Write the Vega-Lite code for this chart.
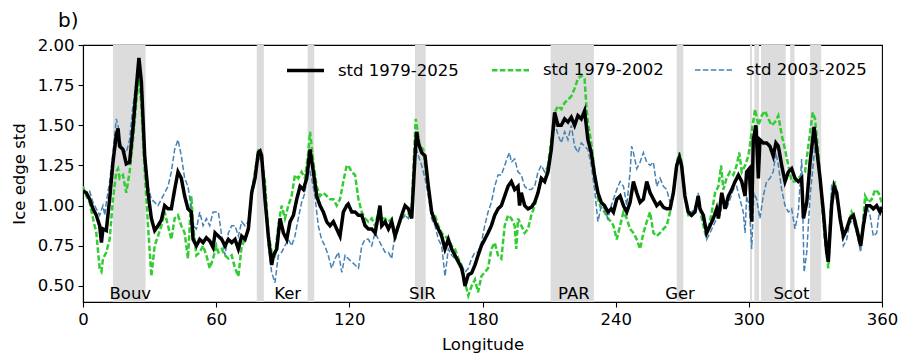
{
"$schema":"https://vega.github.io/schema/vega-lite/v6.json",
"width":799,"height":257,
"autosize":{"type":"none"},
"padding":{"left":83,"top":45,"right":18,"bottom":51},
"title":{"text":"b)","anchor":"start","frame":"group","dx":-25,"dy":25,"fontSize":20,"fontWeight":"normal","font":"DejaVu Sans","color":"black","baseline":"alphabetic","offset":15},
"datasets":{
"bands":[{"x0":13.5,"x1":28.2},{"x0":78.3,"x1":81.5},{"x0":101.2,"x1":104.2},{"x0":149.6,"x1":154.4},{"x0":210.7,"x1":230.2},{"x0":267.5,"x1":270.5},{"x0":300.5,"x1":301.4},{"x0":302.5,"x1":304.6},{"x0":305.5,"x1":316.6},{"x0":318.6,"x1":320.6},{"x0":327.6,"x1":332.6}],
"labels":[{"label":"Bouv","lon":21.3},{"label":"Ker","lon":92.2},{"label":"SIR","lon":152.9},{"label":"PAR","lon":221.2},{"label":"Ger","lon":269.0},{"label":"Scot","lon":319.2}],
"lines":[
{"series":"std 1979-2025","lon":0,"std":1.09},{"series":"std 1979-2025","lon":1.5,"std":1.08},{"series":"std 1979-2025","lon":3,"std":1.04},{"series":"std 1979-2025","lon":4.5,"std":0.98},{"series":"std 1979-2025","lon":6,"std":0.94},{"series":"std 1979-2025","lon":7.5,"std":0.875},{"series":"std 1979-2025","lon":8.3,"std":0.77},{"series":"std 1979-2025","lon":9,"std":0.855},{"series":"std 1979-2025","lon":10.5,"std":0.845},{"series":"std 1979-2025","lon":12,"std":1.04},{"series":"std 1979-2025","lon":13.5,"std":1.27},{"series":"std 1979-2025","lon":15,"std":1.44},{"series":"std 1979-2025","lon":15.8,"std":1.48},{"series":"std 1979-2025","lon":16.5,"std":1.37},{"series":"std 1979-2025","lon":18,"std":1.35},{"series":"std 1979-2025","lon":19.5,"std":1.26},{"series":"std 1979-2025","lon":21,"std":1.27},{"series":"std 1979-2025","lon":22.5,"std":1.48},{"series":"std 1979-2025","lon":24,"std":1.73},{"series":"std 1979-2025","lon":25.2,"std":1.92},{"series":"std 1979-2025","lon":26.3,"std":1.77},{"series":"std 1979-2025","lon":27.8,"std":1.31},{"series":"std 1979-2025","lon":29.3,"std":1.08},{"series":"std 1979-2025","lon":30.8,"std":0.92},{"series":"std 1979-2025","lon":32.3,"std":0.845},{"series":"std 1979-2025","lon":33.8,"std":0.875},{"series":"std 1979-2025","lon":35.3,"std":0.91},{"series":"std 1979-2025","lon":36.8,"std":1.0},{"series":"std 1979-2025","lon":38.3,"std":0.98},{"series":"std 1979-2025","lon":39.8,"std":0.98},{"series":"std 1979-2025","lon":41.3,"std":1.1},{"series":"std 1979-2025","lon":42.8,"std":1.21},{"series":"std 1979-2025","lon":44.3,"std":1.17},{"series":"std 1979-2025","lon":45.8,"std":1.06},{"series":"std 1979-2025","lon":47.3,"std":0.98},{"series":"std 1979-2025","lon":48.8,"std":0.96},{"series":"std 1979-2025","lon":49.6,"std":0.79},{"series":"std 1979-2025","lon":51.1,"std":0.75},{"series":"std 1979-2025","lon":52.6,"std":0.79},{"series":"std 1979-2025","lon":54.1,"std":0.77},{"series":"std 1979-2025","lon":55.6,"std":0.8},{"series":"std 1979-2025","lon":57.1,"std":0.78},{"series":"std 1979-2025","lon":58.6,"std":0.74},{"series":"std 1979-2025","lon":59.5,"std":0.83},{"series":"std 1979-2025","lon":61,"std":0.81},{"series":"std 1979-2025","lon":62.5,"std":0.79},{"series":"std 1979-2025","lon":64,"std":0.75},{"series":"std 1979-2025","lon":65.5,"std":0.79},{"series":"std 1979-2025","lon":67,"std":0.77},{"series":"std 1979-2025","lon":68.5,"std":0.79},{"series":"std 1979-2025","lon":70,"std":0.73},{"series":"std 1979-2025","lon":71.5,"std":0.81},{"series":"std 1979-2025","lon":73,"std":0.79},{"series":"std 1979-2025","lon":74.5,"std":0.855},{"series":"std 1979-2025","lon":76,"std":1.08},{"series":"std 1979-2025","lon":77.5,"std":1.17},{"series":"std 1979-2025","lon":79,"std":1.33},{"series":"std 1979-2025","lon":79.8,"std":1.34},{"series":"std 1979-2025","lon":80.5,"std":1.31},{"series":"std 1979-2025","lon":82,"std":1.04},{"series":"std 1979-2025","lon":83.5,"std":0.81},{"series":"std 1979-2025","lon":85,"std":0.63},{"series":"std 1979-2025","lon":85.8,"std":0.69},{"series":"std 1979-2025","lon":87.3,"std":0.73},{"series":"std 1979-2025","lon":88.8,"std":0.92},{"series":"std 1979-2025","lon":90.3,"std":0.83},{"series":"std 1979-2025","lon":91.8,"std":0.79},{"series":"std 1979-2025","lon":93.3,"std":0.9},{"series":"std 1979-2025","lon":94.8,"std":0.94},{"series":"std 1979-2025","lon":96.3,"std":1.04},{"series":"std 1979-2025","lon":97.8,"std":1.12},{"series":"std 1979-2025","lon":99.3,"std":1.1},{"series":"std 1979-2025","lon":100.8,"std":1.17},{"series":"std 1979-2025","lon":102.3,"std":1.35},{"series":"std 1979-2025","lon":103.8,"std":1.21},{"series":"std 1979-2025","lon":105.3,"std":1.06},{"series":"std 1979-2025","lon":106.8,"std":1.0},{"series":"std 1979-2025","lon":108.3,"std":0.96},{"series":"std 1979-2025","lon":109.8,"std":0.9},{"series":"std 1979-2025","lon":111.3,"std":0.875},{"series":"std 1979-2025","lon":112.8,"std":0.9},{"series":"std 1979-2025","lon":114.3,"std":0.855},{"series":"std 1979-2025","lon":115.8,"std":0.81},{"series":"std 1979-2025","lon":117.3,"std":0.96},{"series":"std 1979-2025","lon":118.8,"std":1.0},{"series":"std 1979-2025","lon":119.5,"std":1.01},{"series":"std 1979-2025","lon":121.1,"std":0.96},{"series":"std 1979-2025","lon":122.6,"std":0.96},{"series":"std 1979-2025","lon":124.1,"std":0.94},{"series":"std 1979-2025","lon":125.6,"std":0.94},{"series":"std 1979-2025","lon":127.1,"std":0.875},{"series":"std 1979-2025","lon":128.6,"std":0.855},{"series":"std 1979-2025","lon":130.1,"std":0.855},{"series":"std 1979-2025","lon":131.6,"std":0.83},{"series":"std 1979-2025","lon":133.1,"std":0.94},{"series":"std 1979-2025","lon":133.8,"std":1.0},{"series":"std 1979-2025","lon":134.6,"std":0.875},{"series":"std 1979-2025","lon":136.1,"std":0.9},{"series":"std 1979-2025","lon":137.6,"std":0.855},{"series":"std 1979-2025","lon":139.1,"std":0.9},{"series":"std 1979-2025","lon":140.6,"std":0.81},{"series":"std 1979-2025","lon":142.1,"std":0.875},{"series":"std 1979-2025","lon":143.6,"std":0.94},{"series":"std 1979-2025","lon":145.1,"std":1.0},{"series":"std 1979-2025","lon":146.6,"std":0.98},{"series":"std 1979-2025","lon":148.1,"std":0.92},{"series":"std 1979-2025","lon":148.8,"std":1.1},{"series":"std 1979-2025","lon":149.6,"std":1.31},{"series":"std 1979-2025","lon":150.3,"std":1.46},{"series":"std 1979-2025","lon":151.1,"std":1.39},{"series":"std 1979-2025","lon":152.6,"std":1.33},{"series":"std 1979-2025","lon":154.1,"std":1.31},{"series":"std 1979-2025","lon":155.6,"std":1.12},{"series":"std 1979-2025","lon":157.1,"std":0.96},{"series":"std 1979-2025","lon":158.6,"std":0.9},{"series":"std 1979-2025","lon":160.1,"std":0.855},{"series":"std 1979-2025","lon":161.6,"std":0.81},{"series":"std 1979-2025","lon":163.1,"std":0.73},{"series":"std 1979-2025","lon":164.6,"std":0.79},{"series":"std 1979-2025","lon":166.1,"std":0.73},{"series":"std 1979-2025","lon":167.6,"std":0.69},{"series":"std 1979-2025","lon":169.1,"std":0.65},{"series":"std 1979-2025","lon":170.6,"std":0.61},{"series":"std 1979-2025","lon":171.4,"std":0.56},{"series":"std 1979-2025","lon":172.1,"std":0.5},{"series":"std 1979-2025","lon":173.6,"std":0.57},{"series":"std 1979-2025","lon":175.1,"std":0.58},{"series":"std 1979-2025","lon":176.6,"std":0.63},{"series":"std 1979-2025","lon":178,"std":0.69},{"series":"std 1979-2025","lon":179.5,"std":0.75},{"series":"std 1979-2025","lon":181,"std":0.79},{"series":"std 1979-2025","lon":182.5,"std":0.83},{"series":"std 1979-2025","lon":184,"std":0.875},{"series":"std 1979-2025","lon":185.5,"std":0.94},{"series":"std 1979-2025","lon":187,"std":0.98},{"series":"std 1979-2025","lon":188.5,"std":1.0},{"series":"std 1979-2025","lon":190,"std":1.06},{"series":"std 1979-2025","lon":191.5,"std":1.12},{"series":"std 1979-2025","lon":193,"std":1.15},{"series":"std 1979-2025","lon":194.5,"std":1.1},{"series":"std 1979-2025","lon":196,"std":1.12},{"series":"std 1979-2025","lon":196.7,"std":1.0},{"series":"std 1979-2025","lon":197.5,"std":1.08},{"series":"std 1979-2025","lon":199,"std":1.0},{"series":"std 1979-2025","lon":200.5,"std":0.98},{"series":"std 1979-2025","lon":202,"std":0.99},{"series":"std 1979-2025","lon":203.5,"std":1.02},{"series":"std 1979-2025","lon":205,"std":1.08},{"series":"std 1979-2025","lon":206.5,"std":1.17},{"series":"std 1979-2025","lon":208,"std":1.15},{"series":"std 1979-2025","lon":209.5,"std":1.21},{"series":"std 1979-2025","lon":211,"std":1.35},{"series":"std 1979-2025","lon":212.5,"std":1.58},{"series":"std 1979-2025","lon":214,"std":1.5},{"series":"std 1979-2025","lon":215.5,"std":1.5},{"series":"std 1979-2025","lon":217,"std":1.54},{"series":"std 1979-2025","lon":218.5,"std":1.52},{"series":"std 1979-2025","lon":220,"std":1.55},{"series":"std 1979-2025","lon":221.5,"std":1.5},{"series":"std 1979-2025","lon":223,"std":1.56},{"series":"std 1979-2025","lon":224.5,"std":1.54},{"series":"std 1979-2025","lon":226,"std":1.59},{"series":"std 1979-2025","lon":227.5,"std":1.41},{"series":"std 1979-2025","lon":229,"std":1.33},{"series":"std 1979-2025","lon":230.5,"std":1.19},{"series":"std 1979-2025","lon":232,"std":1.08},{"series":"std 1979-2025","lon":233.5,"std":1.02},{"series":"std 1979-2025","lon":235,"std":1.0},{"series":"std 1979-2025","lon":236.5,"std":0.96},{"series":"std 1979-2025","lon":238,"std":0.98},{"series":"std 1979-2025","lon":239,"std":0.96},{"series":"std 1979-2025","lon":240.5,"std":1.04},{"series":"std 1979-2025","lon":242,"std":1.06},{"series":"std 1979-2025","lon":243.5,"std":1.0},{"series":"std 1979-2025","lon":245,"std":0.96},{"series":"std 1979-2025","lon":246.5,"std":1.02},{"series":"std 1979-2025","lon":248,"std":1.15},{"series":"std 1979-2025","lon":249.5,"std":1.08},{"series":"std 1979-2025","lon":251,"std":1.02},{"series":"std 1979-2025","lon":252.5,"std":1.04},{"series":"std 1979-2025","lon":254,"std":1.15},{"series":"std 1979-2025","lon":255.5,"std":1.08},{"series":"std 1979-2025","lon":257,"std":1.04},{"series":"std 1979-2025","lon":258.5,"std":1.0},{"series":"std 1979-2025","lon":260,"std":1.02},{"series":"std 1979-2025","lon":261.5,"std":0.99},{"series":"std 1979-2025","lon":263,"std":0.98},{"series":"std 1979-2025","lon":264.5,"std":0.98},{"series":"std 1979-2025","lon":266,"std":1.08},{"series":"std 1979-2025","lon":267.5,"std":1.25},{"series":"std 1979-2025","lon":268.7,"std":1.3},{"series":"std 1979-2025","lon":269.7,"std":1.25},{"series":"std 1979-2025","lon":271.2,"std":1.06},{"series":"std 1979-2025","lon":272.7,"std":0.96},{"series":"std 1979-2025","lon":274.2,"std":0.94},{"series":"std 1979-2025","lon":275.7,"std":0.96},{"series":"std 1979-2025","lon":277.2,"std":1.06},{"series":"std 1979-2025","lon":278,"std":0.98},{"series":"std 1979-2025","lon":279.5,"std":0.94},{"series":"std 1979-2025","lon":281,"std":0.83},{"series":"std 1979-2025","lon":282.5,"std":0.875},{"series":"std 1979-2025","lon":284,"std":0.92},{"series":"std 1979-2025","lon":285.5,"std":0.98},{"series":"std 1979-2025","lon":286.3,"std":0.92},{"series":"std 1979-2025","lon":287.8,"std":1.08},{"series":"std 1979-2025","lon":289.3,"std":0.98},{"series":"std 1979-2025","lon":290.8,"std":1.06},{"series":"std 1979-2025","lon":292.3,"std":1.1},{"series":"std 1979-2025","lon":293.8,"std":1.15},{"series":"std 1979-2025","lon":295.3,"std":1.19},{"series":"std 1979-2025","lon":296.8,"std":1.15},{"series":"std 1979-2025","lon":298.3,"std":1.06},{"series":"std 1979-2025","lon":299,"std":1.21},{"series":"std 1979-2025","lon":300.2,"std":1.23},{"series":"std 1979-2025","lon":301.3,"std":0.9},{"series":"std 1979-2025","lon":302,"std":1.41},{"series":"std 1979-2025","lon":303.2,"std":1.5},{"series":"std 1979-2025","lon":304.3,"std":1.17},{"series":"std 1979-2025","lon":305,"std":1.41},{"series":"std 1979-2025","lon":306.5,"std":1.39},{"series":"std 1979-2025","lon":308,"std":1.39},{"series":"std 1979-2025","lon":309.5,"std":1.37},{"series":"std 1979-2025","lon":311,"std":1.31},{"series":"std 1979-2025","lon":312.2,"std":1.39},{"series":"std 1979-2025","lon":313.3,"std":1.37},{"series":"std 1979-2025","lon":314.8,"std":1.25},{"series":"std 1979-2025","lon":316.3,"std":1.15},{"series":"std 1979-2025","lon":317.8,"std":1.21},{"series":"std 1979-2025","lon":319.3,"std":1.23},{"series":"std 1979-2025","lon":320.8,"std":1.17},{"series":"std 1979-2025","lon":322.3,"std":1.15},{"series":"std 1979-2025","lon":323.8,"std":1.17},{"series":"std 1979-2025","lon":324.6,"std":0.92},{"series":"std 1979-2025","lon":326.1,"std":1.02},{"series":"std 1979-2025","lon":327.6,"std":1.27},{"series":"std 1979-2025","lon":329.4,"std":1.49},{"series":"std 1979-2025","lon":330.6,"std":1.35},{"series":"std 1979-2025","lon":332.1,"std":1.17},{"series":"std 1979-2025","lon":333.6,"std":0.96},{"series":"std 1979-2025","lon":335.1,"std":0.71},{"series":"std 1979-2025","lon":335.8,"std":0.65},{"series":"std 1979-2025","lon":337.3,"std":1.0},{"series":"std 1979-2025","lon":338.4,"std":1.12},{"series":"std 1979-2025","lon":339.6,"std":1.08},{"series":"std 1979-2025","lon":341.1,"std":0.92},{"series":"std 1979-2025","lon":342.6,"std":0.81},{"series":"std 1979-2025","lon":344.1,"std":0.855},{"series":"std 1979-2025","lon":345.6,"std":0.92},{"series":"std 1979-2025","lon":347.1,"std":0.94},{"series":"std 1979-2025","lon":348.6,"std":0.855},{"series":"std 1979-2025","lon":350.4,"std":0.75},{"series":"std 1979-2025","lon":351.6,"std":0.875},{"series":"std 1979-2025","lon":353.1,"std":1.0},{"series":"std 1979-2025","lon":354.6,"std":1.0},{"series":"std 1979-2025","lon":356.1,"std":0.98},{"series":"std 1979-2025","lon":357.6,"std":1.0},{"series":"std 1979-2025","lon":359.1,"std":0.96},{"series":"std 1979-2025","lon":360,"std":0.99},
{"series":"std 1979-2002","lon":0,"std":1.12},{"series":"std 1979-2002","lon":1.5,"std":1.06},{"series":"std 1979-2002","lon":3,"std":1.02},{"series":"std 1979-2002","lon":4.5,"std":0.92},{"series":"std 1979-2002","lon":6,"std":0.83},{"series":"std 1979-2002","lon":7.5,"std":0.61},{"series":"std 1979-2002","lon":8.3,"std":0.59},{"series":"std 1979-2002","lon":9,"std":0.67},{"series":"std 1979-2002","lon":10.5,"std":0.71},{"series":"std 1979-2002","lon":12,"std":0.79},{"series":"std 1979-2002","lon":13.5,"std":1.04},{"series":"std 1979-2002","lon":15,"std":1.21},{"series":"std 1979-2002","lon":15.8,"std":1.23},{"series":"std 1979-2002","lon":16.5,"std":1.17},{"series":"std 1979-2002","lon":18,"std":1.19},{"series":"std 1979-2002","lon":19.5,"std":1.08},{"series":"std 1979-2002","lon":21,"std":1.21},{"series":"std 1979-2002","lon":22.5,"std":1.41},{"series":"std 1979-2002","lon":24,"std":1.64},{"series":"std 1979-2002","lon":25.2,"std":1.81},{"series":"std 1979-2002","lon":26.3,"std":1.62},{"series":"std 1979-2002","lon":27.8,"std":1.21},{"series":"std 1979-2002","lon":29.3,"std":0.875},{"series":"std 1979-2002","lon":30.8,"std":0.56},{"series":"std 1979-2002","lon":32.3,"std":0.75},{"series":"std 1979-2002","lon":33.8,"std":0.81},{"series":"std 1979-2002","lon":35.3,"std":0.875},{"series":"std 1979-2002","lon":36.8,"std":0.96},{"series":"std 1979-2002","lon":38.3,"std":0.875},{"series":"std 1979-2002","lon":39.8,"std":0.79},{"series":"std 1979-2002","lon":41.3,"std":0.92},{"series":"std 1979-2002","lon":42.8,"std":0.94},{"series":"std 1979-2002","lon":44.3,"std":0.875},{"series":"std 1979-2002","lon":45.8,"std":0.83},{"series":"std 1979-2002","lon":47.3,"std":0.67},{"series":"std 1979-2002","lon":48.8,"std":1.06},{"series":"std 1979-2002","lon":49.6,"std":0.875},{"series":"std 1979-2002","lon":51.1,"std":0.69},{"series":"std 1979-2002","lon":52.6,"std":0.71},{"series":"std 1979-2002","lon":54.1,"std":0.75},{"series":"std 1979-2002","lon":55.6,"std":0.69},{"series":"std 1979-2002","lon":57.1,"std":0.61},{"series":"std 1979-2002","lon":58.6,"std":0.67},{"series":"std 1979-2002","lon":60.1,"std":0.75},{"series":"std 1979-2002","lon":61,"std":0.71},{"series":"std 1979-2002","lon":62.5,"std":0.73},{"series":"std 1979-2002","lon":64,"std":0.69},{"series":"std 1979-2002","lon":65.5,"std":0.67},{"series":"std 1979-2002","lon":67,"std":0.69},{"series":"std 1979-2002","lon":68.5,"std":0.61},{"series":"std 1979-2002","lon":70,"std":0.56},{"series":"std 1979-2002","lon":71.5,"std":0.75},{"series":"std 1979-2002","lon":73,"std":0.79},{"series":"std 1979-2002","lon":74.5,"std":0.855},{"series":"std 1979-2002","lon":76,"std":1.08},{"series":"std 1979-2002","lon":77.5,"std":1.21},{"series":"std 1979-2002","lon":79,"std":1.35},{"series":"std 1979-2002","lon":80.5,"std":1.29},{"series":"std 1979-2002","lon":82,"std":1.15},{"series":"std 1979-2002","lon":83.5,"std":0.83},{"series":"std 1979-2002","lon":85,"std":0.71},{"series":"std 1979-2002","lon":86.5,"std":0.69},{"series":"std 1979-2002","lon":88,"std":0.875},{"series":"std 1979-2002","lon":89.5,"std":1.0},{"series":"std 1979-2002","lon":91,"std":0.92},{"series":"std 1979-2002","lon":92.5,"std":1.0},{"series":"std 1979-2002","lon":94,"std":1.06},{"series":"std 1979-2002","lon":95.5,"std":1.19},{"series":"std 1979-2002","lon":97,"std":1.17},{"series":"std 1979-2002","lon":98.5,"std":1.21},{"series":"std 1979-2002","lon":100,"std":1.17},{"series":"std 1979-2002","lon":101.5,"std":1.33},{"series":"std 1979-2002","lon":102.3,"std":1.46},{"series":"std 1979-2002","lon":103.8,"std":1.27},{"series":"std 1979-2002","lon":105.3,"std":1.12},{"series":"std 1979-2002","lon":106.8,"std":1.06},{"series":"std 1979-2002","lon":108.3,"std":1.08},{"series":"std 1979-2002","lon":109.8,"std":1.06},{"series":"std 1979-2002","lon":111.3,"std":1.04},{"series":"std 1979-2002","lon":112.8,"std":1.04},{"series":"std 1979-2002","lon":114.3,"std":1.0},{"series":"std 1979-2002","lon":115.8,"std":1.04},{"series":"std 1979-2002","lon":117.3,"std":1.15},{"series":"std 1979-2002","lon":118.8,"std":1.25},{"series":"std 1979-2002","lon":119.5,"std":1.25},{"series":"std 1979-2002","lon":121.1,"std":1.21},{"series":"std 1979-2002","lon":122.6,"std":1.19},{"series":"std 1979-2002","lon":124.1,"std":1.04},{"series":"std 1979-2002","lon":125.6,"std":0.96},{"series":"std 1979-2002","lon":127.1,"std":0.92},{"series":"std 1979-2002","lon":128.6,"std":0.9},{"series":"std 1979-2002","lon":130.1,"std":0.92},{"series":"std 1979-2002","lon":131.6,"std":0.875},{"series":"std 1979-2002","lon":133.1,"std":0.96},{"series":"std 1979-2002","lon":134.6,"std":0.92},{"series":"std 1979-2002","lon":136.1,"std":0.92},{"series":"std 1979-2002","lon":137.6,"std":0.9},{"series":"std 1979-2002","lon":139.1,"std":0.92},{"series":"std 1979-2002","lon":140.6,"std":0.79},{"series":"std 1979-2002","lon":142.1,"std":0.875},{"series":"std 1979-2002","lon":143.6,"std":0.92},{"series":"std 1979-2002","lon":145.1,"std":0.94},{"series":"std 1979-2002","lon":146.6,"std":0.94},{"series":"std 1979-2002","lon":148.1,"std":1.0},{"series":"std 1979-2002","lon":148.8,"std":1.21},{"series":"std 1979-2002","lon":149.9,"std":1.54},{"series":"std 1979-2002","lon":150.8,"std":1.46},{"series":"std 1979-2002","lon":151.8,"std":1.37},{"series":"std 1979-2002","lon":153.3,"std":1.35},{"series":"std 1979-2002","lon":154.8,"std":1.17},{"series":"std 1979-2002","lon":157.1,"std":0.96},{"series":"std 1979-2002","lon":158.6,"std":0.94},{"series":"std 1979-2002","lon":160.1,"std":0.875},{"series":"std 1979-2002","lon":161.6,"std":0.83},{"series":"std 1979-2002","lon":163.1,"std":0.81},{"series":"std 1979-2002","lon":164.6,"std":0.79},{"series":"std 1979-2002","lon":166.1,"std":0.75},{"series":"std 1979-2002","lon":167.6,"std":0.73},{"series":"std 1979-2002","lon":169.1,"std":0.67},{"series":"std 1979-2002","lon":170.6,"std":0.63},{"series":"std 1979-2002","lon":172.1,"std":0.52},{"series":"std 1979-2002","lon":173.6,"std":0.44},{"series":"std 1979-2002","lon":175.1,"std":0.5},{"series":"std 1979-2002","lon":176.6,"std":0.54},{"series":"std 1979-2002","lon":178,"std":0.46},{"series":"std 1979-2002","lon":179.5,"std":0.56},{"series":"std 1979-2002","lon":181,"std":0.585},{"series":"std 1979-2002","lon":182.5,"std":0.61},{"series":"std 1979-2002","lon":184,"std":0.73},{"series":"std 1979-2002","lon":185.5,"std":0.77},{"series":"std 1979-2002","lon":187,"std":0.69},{"series":"std 1979-2002","lon":188.5,"std":0.67},{"series":"std 1979-2002","lon":190,"std":0.875},{"series":"std 1979-2002","lon":191.5,"std":0.94},{"series":"std 1979-2002","lon":193,"std":0.92},{"series":"std 1979-2002","lon":194.5,"std":0.875},{"series":"std 1979-2002","lon":195.2,"std":0.73},{"series":"std 1979-2002","lon":196,"std":0.92},{"series":"std 1979-2002","lon":197.5,"std":0.875},{"series":"std 1979-2002","lon":199,"std":0.83},{"series":"std 1979-2002","lon":200.5,"std":0.855},{"series":"std 1979-2002","lon":202,"std":0.94},{"series":"std 1979-2002","lon":203.5,"std":1.0},{"series":"std 1979-2002","lon":205,"std":1.08},{"series":"std 1979-2002","lon":206.5,"std":1.17},{"series":"std 1979-2002","lon":208,"std":1.15},{"series":"std 1979-2002","lon":209.5,"std":1.25},{"series":"std 1979-2002","lon":211,"std":1.41},{"series":"std 1979-2002","lon":212.5,"std":1.58},{"series":"std 1979-2002","lon":214,"std":1.62},{"series":"std 1979-2002","lon":215.5,"std":1.6},{"series":"std 1979-2002","lon":217,"std":1.64},{"series":"std 1979-2002","lon":218.5,"std":1.66},{"series":"std 1979-2002","lon":220,"std":1.68},{"series":"std 1979-2002","lon":221.5,"std":1.73},{"series":"std 1979-2002","lon":223,"std":1.79},{"series":"std 1979-2002","lon":224.5,"std":1.81},{"series":"std 1979-2002","lon":226,"std":1.79},{"series":"std 1979-2002","lon":226.8,"std":1.62},{"series":"std 1979-2002","lon":227.5,"std":1.52},{"series":"std 1979-2002","lon":229,"std":1.39},{"series":"std 1979-2002","lon":230.5,"std":1.21},{"series":"std 1979-2002","lon":232,"std":1.04},{"series":"std 1979-2002","lon":233.5,"std":0.98},{"series":"std 1979-2002","lon":235,"std":0.96},{"series":"std 1979-2002","lon":236.5,"std":0.92},{"series":"std 1979-2002","lon":238,"std":0.9},{"series":"std 1979-2002","lon":239,"std":0.875},{"series":"std 1979-2002","lon":240.5,"std":0.79},{"series":"std 1979-2002","lon":242,"std":0.875},{"series":"std 1979-2002","lon":243.5,"std":0.96},{"series":"std 1979-2002","lon":245,"std":0.92},{"series":"std 1979-2002","lon":246.5,"std":0.855},{"series":"std 1979-2002","lon":248,"std":0.83},{"series":"std 1979-2002","lon":249.5,"std":0.79},{"series":"std 1979-2002","lon":251,"std":0.73},{"series":"std 1979-2002","lon":252.5,"std":0.83},{"series":"std 1979-2002","lon":254,"std":0.9},{"series":"std 1979-2002","lon":255.5,"std":0.96},{"series":"std 1979-2002","lon":257,"std":0.83},{"series":"std 1979-2002","lon":258.5,"std":0.81},{"series":"std 1979-2002","lon":260,"std":0.83},{"series":"std 1979-2002","lon":261.5,"std":0.855},{"series":"std 1979-2002","lon":263,"std":0.875},{"series":"std 1979-2002","lon":264.5,"std":0.96},{"series":"std 1979-2002","lon":266,"std":1.08},{"series":"std 1979-2002","lon":267.5,"std":1.27},{"series":"std 1979-2002","lon":268.7,"std":1.33},{"series":"std 1979-2002","lon":269.7,"std":1.27},{"series":"std 1979-2002","lon":271.2,"std":1.06},{"series":"std 1979-2002","lon":272.7,"std":0.94},{"series":"std 1979-2002","lon":274.2,"std":0.94},{"series":"std 1979-2002","lon":275.7,"std":0.96},{"series":"std 1979-2002","lon":277.2,"std":1.04},{"series":"std 1979-2002","lon":278.8,"std":0.92},{"series":"std 1979-2002","lon":280.3,"std":0.83},{"series":"std 1979-2002","lon":281.8,"std":0.855},{"series":"std 1979-2002","lon":283.3,"std":0.96},{"series":"std 1979-2002","lon":284.8,"std":1.08},{"series":"std 1979-2002","lon":286.3,"std":1.12},{"series":"std 1979-2002","lon":287.5,"std":1.25},{"series":"std 1979-2002","lon":288.5,"std":1.1},{"series":"std 1979-2002","lon":290,"std":1.17},{"series":"std 1979-2002","lon":291.5,"std":1.21},{"series":"std 1979-2002","lon":293,"std":1.19},{"series":"std 1979-2002","lon":294.5,"std":1.25},{"series":"std 1979-2002","lon":295.7,"std":1.33},{"series":"std 1979-2002","lon":296.8,"std":1.21},{"series":"std 1979-2002","lon":298.3,"std":1.25},{"series":"std 1979-2002","lon":299.8,"std":1.31},{"series":"std 1979-2002","lon":301.3,"std":1.46},{"series":"std 1979-2002","lon":302.8,"std":1.6},{"series":"std 1979-2002","lon":304.3,"std":1.5},{"series":"std 1979-2002","lon":305.8,"std":1.56},{"series":"std 1979-2002","lon":307.3,"std":1.59},{"series":"std 1979-2002","lon":308.8,"std":1.54},{"series":"std 1979-2002","lon":310.3,"std":1.5},{"series":"std 1979-2002","lon":311.8,"std":1.52},{"series":"std 1979-2002","lon":313.3,"std":1.56},{"series":"std 1979-2002","lon":314.8,"std":1.44},{"series":"std 1979-2002","lon":316.3,"std":1.35},{"series":"std 1979-2002","lon":317.8,"std":1.25},{"series":"std 1979-2002","lon":319.3,"std":1.15},{"series":"std 1979-2002","lon":320.8,"std":1.15},{"series":"std 1979-2002","lon":322.3,"std":1.17},{"series":"std 1979-2002","lon":323.8,"std":1.19},{"series":"std 1979-2002","lon":325.3,"std":1.21},{"series":"std 1979-2002","lon":326.8,"std":1.37},{"series":"std 1979-2002","lon":328.8,"std":1.58},{"series":"std 1979-2002","lon":329.8,"std":1.54},{"series":"std 1979-2002","lon":331.3,"std":1.33},{"series":"std 1979-2002","lon":332.8,"std":1.04},{"series":"std 1979-2002","lon":334.3,"std":0.79},{"series":"std 1979-2002","lon":335.8,"std":0.61},{"series":"std 1979-2002","lon":337.3,"std":1.04},{"series":"std 1979-2002","lon":338.8,"std":1.15},{"series":"std 1979-2002","lon":340.3,"std":1.0},{"series":"std 1979-2002","lon":341.8,"std":0.875},{"series":"std 1979-2002","lon":343.3,"std":0.83},{"series":"std 1979-2002","lon":344.8,"std":0.875},{"series":"std 1979-2002","lon":346.3,"std":0.96},{"series":"std 1979-2002","lon":347.8,"std":0.92},{"series":"std 1979-2002","lon":349.3,"std":0.83},{"series":"std 1979-2002","lon":350.8,"std":0.77},{"series":"std 1979-2002","lon":352.4,"std":1.06},{"series":"std 1979-2002","lon":353.9,"std":1.02},{"series":"std 1979-2002","lon":355.4,"std":1.04},{"series":"std 1979-2002","lon":356.9,"std":1.1},{"series":"std 1979-2002","lon":358.4,"std":1.08},{"series":"std 1979-2002","lon":359.9,"std":1.02},
{"series":"std 2003-2025","lon":0,"std":1.1},{"series":"std 2003-2025","lon":1.5,"std":1.08},{"series":"std 2003-2025","lon":3,"std":1.09},{"series":"std 2003-2025","lon":4.5,"std":1.02},{"series":"std 2003-2025","lon":6,"std":0.98},{"series":"std 2003-2025","lon":7.5,"std":0.94},{"series":"std 2003-2025","lon":9,"std":1.0},{"series":"std 2003-2025","lon":9.8,"std":0.94},{"series":"std 2003-2025","lon":10.5,"std":1.02},{"series":"std 2003-2025","lon":12,"std":1.15},{"series":"std 2003-2025","lon":13.5,"std":1.33},{"series":"std 2003-2025","lon":15,"std":1.54},{"series":"std 2003-2025","lon":15.8,"std":1.5},{"series":"std 2003-2025","lon":16.5,"std":1.41},{"series":"std 2003-2025","lon":18,"std":1.35},{"series":"std 2003-2025","lon":19.5,"std":1.33},{"series":"std 2003-2025","lon":21,"std":1.41},{"series":"std 2003-2025","lon":22.5,"std":1.62},{"series":"std 2003-2025","lon":24,"std":1.77},{"series":"std 2003-2025","lon":25.2,"std":1.87},{"series":"std 2003-2025","lon":26.3,"std":1.73},{"series":"std 2003-2025","lon":27.8,"std":1.35},{"series":"std 2003-2025","lon":29.3,"std":1.12},{"series":"std 2003-2025","lon":30.8,"std":1.04},{"series":"std 2003-2025","lon":32.3,"std":1.02},{"series":"std 2003-2025","lon":33.8,"std":1.0},{"series":"std 2003-2025","lon":35.3,"std":1.04},{"series":"std 2003-2025","lon":36.8,"std":1.08},{"series":"std 2003-2025","lon":38.3,"std":1.12},{"series":"std 2003-2025","lon":39.8,"std":1.21},{"series":"std 2003-2025","lon":41.3,"std":1.35},{"series":"std 2003-2025","lon":42.8,"std":1.41},{"series":"std 2003-2025","lon":44.3,"std":1.31},{"series":"std 2003-2025","lon":45.8,"std":1.17},{"series":"std 2003-2025","lon":47.3,"std":1.12},{"series":"std 2003-2025","lon":48.8,"std":0.98},{"series":"std 2003-2025","lon":49.6,"std":0.875},{"series":"std 2003-2025","lon":51.1,"std":0.855},{"series":"std 2003-2025","lon":52.6,"std":0.96},{"series":"std 2003-2025","lon":54.1,"std":0.875},{"series":"std 2003-2025","lon":55.6,"std":0.92},{"series":"std 2003-2025","lon":57.1,"std":0.875},{"series":"std 2003-2025","lon":58.6,"std":0.96},{"series":"std 2003-2025","lon":61,"std":0.96},{"series":"std 2003-2025","lon":62.5,"std":0.81},{"series":"std 2003-2025","lon":64,"std":0.69},{"series":"std 2003-2025","lon":65.5,"std":0.83},{"series":"std 2003-2025","lon":67,"std":0.875},{"series":"std 2003-2025","lon":68.5,"std":0.875},{"series":"std 2003-2025","lon":70,"std":0.81},{"series":"std 2003-2025","lon":71.5,"std":0.9},{"series":"std 2003-2025","lon":73,"std":0.875},{"series":"std 2003-2025","lon":74.5,"std":0.9},{"series":"std 2003-2025","lon":76,"std":1.08},{"series":"std 2003-2025","lon":77.5,"std":1.15},{"series":"std 2003-2025","lon":79,"std":1.31},{"series":"std 2003-2025","lon":80.5,"std":1.27},{"series":"std 2003-2025","lon":82,"std":1.04},{"series":"std 2003-2025","lon":83.5,"std":0.75},{"series":"std 2003-2025","lon":85,"std":0.585},{"series":"std 2003-2025","lon":86.5,"std":0.52},{"series":"std 2003-2025","lon":88,"std":0.69},{"series":"std 2003-2025","lon":89.5,"std":0.71},{"series":"std 2003-2025","lon":91,"std":0.75},{"series":"std 2003-2025","lon":92.5,"std":0.79},{"series":"std 2003-2025","lon":94,"std":0.75},{"series":"std 2003-2025","lon":95.5,"std":0.81},{"series":"std 2003-2025","lon":97,"std":0.92},{"series":"std 2003-2025","lon":98.5,"std":1.02},{"series":"std 2003-2025","lon":100,"std":1.08},{"series":"std 2003-2025","lon":101.5,"std":1.25},{"series":"std 2003-2025","lon":103,"std":1.17},{"series":"std 2003-2025","lon":104.5,"std":1.06},{"series":"std 2003-2025","lon":106,"std":0.875},{"series":"std 2003-2025","lon":107.5,"std":0.79},{"series":"std 2003-2025","lon":109,"std":0.75},{"series":"std 2003-2025","lon":110.5,"std":0.69},{"series":"std 2003-2025","lon":112,"std":0.61},{"series":"std 2003-2025","lon":113.6,"std":0.67},{"series":"std 2003-2025","lon":115.1,"std":0.71},{"series":"std 2003-2025","lon":116.6,"std":0.585},{"series":"std 2003-2025","lon":118.1,"std":0.69},{"series":"std 2003-2025","lon":119.5,"std":0.67},{"series":"std 2003-2025","lon":121.1,"std":0.65},{"series":"std 2003-2025","lon":122.6,"std":0.63},{"series":"std 2003-2025","lon":124.1,"std":0.61},{"series":"std 2003-2025","lon":125.6,"std":0.75},{"series":"std 2003-2025","lon":127.1,"std":0.79},{"series":"std 2003-2025","lon":128.6,"std":0.79},{"series":"std 2003-2025","lon":130.1,"std":0.75},{"series":"std 2003-2025","lon":131.6,"std":0.83},{"series":"std 2003-2025","lon":133.1,"std":0.79},{"series":"std 2003-2025","lon":134.6,"std":0.75},{"series":"std 2003-2025","lon":136.1,"std":0.71},{"series":"std 2003-2025","lon":137.6,"std":0.71},{"series":"std 2003-2025","lon":139.1,"std":0.67},{"series":"std 2003-2025","lon":140.6,"std":0.83},{"series":"std 2003-2025","lon":142.1,"std":0.875},{"series":"std 2003-2025","lon":143.6,"std":0.92},{"series":"std 2003-2025","lon":145.1,"std":0.94},{"series":"std 2003-2025","lon":146.6,"std":0.92},{"series":"std 2003-2025","lon":148.1,"std":1.0},{"series":"std 2003-2025","lon":149.6,"std":1.31},{"series":"std 2003-2025","lon":150.3,"std":1.35},{"series":"std 2003-2025","lon":151.1,"std":1.31},{"series":"std 2003-2025","lon":152.6,"std":1.25},{"series":"std 2003-2025","lon":154.1,"std":1.17},{"series":"std 2003-2025","lon":155.6,"std":1.06},{"series":"std 2003-2025","lon":157.1,"std":0.92},{"series":"std 2003-2025","lon":158.6,"std":0.875},{"series":"std 2003-2025","lon":160.1,"std":0.79},{"series":"std 2003-2025","lon":161.6,"std":0.75},{"series":"std 2003-2025","lon":163.1,"std":0.56},{"series":"std 2003-2025","lon":164.6,"std":0.73},{"series":"std 2003-2025","lon":166.1,"std":0.69},{"series":"std 2003-2025","lon":167.6,"std":0.67},{"series":"std 2003-2025","lon":169.1,"std":0.65},{"series":"std 2003-2025","lon":170.6,"std":0.63},{"series":"std 2003-2025","lon":172.1,"std":0.585},{"series":"std 2003-2025","lon":173.6,"std":0.61},{"series":"std 2003-2025","lon":175.1,"std":0.67},{"series":"std 2003-2025","lon":176.6,"std":0.71},{"series":"std 2003-2025","lon":178,"std":0.71},{"series":"std 2003-2025","lon":179.5,"std":0.77},{"series":"std 2003-2025","lon":181,"std":0.875},{"series":"std 2003-2025","lon":182.5,"std":0.96},{"series":"std 2003-2025","lon":184,"std":1.02},{"series":"std 2003-2025","lon":185.5,"std":1.12},{"series":"std 2003-2025","lon":187,"std":1.19},{"series":"std 2003-2025","lon":188.5,"std":1.19},{"series":"std 2003-2025","lon":190,"std":1.25},{"series":"std 2003-2025","lon":191.5,"std":1.31},{"series":"std 2003-2025","lon":192.2,"std":1.33},{"series":"std 2003-2025","lon":193,"std":1.27},{"series":"std 2003-2025","lon":194.5,"std":1.29},{"series":"std 2003-2025","lon":196,"std":1.21},{"series":"std 2003-2025","lon":197.5,"std":1.19},{"series":"std 2003-2025","lon":199,"std":1.12},{"series":"std 2003-2025","lon":200.5,"std":1.1},{"series":"std 2003-2025","lon":202,"std":1.1},{"series":"std 2003-2025","lon":203.5,"std":1.12},{"series":"std 2003-2025","lon":205,"std":1.21},{"series":"std 2003-2025","lon":206.5,"std":1.25},{"series":"std 2003-2025","lon":208,"std":1.21},{"series":"std 2003-2025","lon":209.5,"std":1.25},{"series":"std 2003-2025","lon":211,"std":1.35},{"series":"std 2003-2025","lon":212.5,"std":1.52},{"series":"std 2003-2025","lon":214,"std":1.44},{"series":"std 2003-2025","lon":215.5,"std":1.39},{"series":"std 2003-2025","lon":217,"std":1.46},{"series":"std 2003-2025","lon":218.5,"std":1.41},{"series":"std 2003-2025","lon":220,"std":1.5},{"series":"std 2003-2025","lon":221.5,"std":1.37},{"series":"std 2003-2025","lon":223,"std":1.33},{"series":"std 2003-2025","lon":224.5,"std":1.39},{"series":"std 2003-2025","lon":226,"std":1.37},{"series":"std 2003-2025","lon":227.5,"std":1.35},{"series":"std 2003-2025","lon":229,"std":1.25},{"series":"std 2003-2025","lon":230.5,"std":1.1},{"series":"std 2003-2025","lon":232,"std":0.9},{"series":"std 2003-2025","lon":233.5,"std":1.0},{"series":"std 2003-2025","lon":235,"std":0.98},{"series":"std 2003-2025","lon":236.5,"std":0.92},{"series":"std 2003-2025","lon":238,"std":1.0},{"series":"std 2003-2025","lon":239,"std":1.04},{"series":"std 2003-2025","lon":240.5,"std":1.1},{"series":"std 2003-2025","lon":242,"std":1.15},{"series":"std 2003-2025","lon":243.5,"std":1.12},{"series":"std 2003-2025","lon":245,"std":1.0},{"series":"std 2003-2025","lon":246.5,"std":1.21},{"series":"std 2003-2025","lon":247.2,"std":1.37},{"series":"std 2003-2025","lon":248,"std":1.33},{"series":"std 2003-2025","lon":249.5,"std":1.23},{"series":"std 2003-2025","lon":251,"std":1.27},{"series":"std 2003-2025","lon":252.5,"std":1.33},{"series":"std 2003-2025","lon":254,"std":1.27},{"series":"std 2003-2025","lon":255.5,"std":1.25},{"series":"std 2003-2025","lon":257,"std":1.27},{"series":"std 2003-2025","lon":258.5,"std":1.12},{"series":"std 2003-2025","lon":260,"std":1.17},{"series":"std 2003-2025","lon":261.5,"std":1.12},{"series":"std 2003-2025","lon":263,"std":1.1},{"series":"std 2003-2025","lon":264.5,"std":1.02},{"series":"std 2003-2025","lon":266,"std":1.06},{"series":"std 2003-2025","lon":267.5,"std":1.25},{"series":"std 2003-2025","lon":268.7,"std":1.29},{"series":"std 2003-2025","lon":269.7,"std":1.25},{"series":"std 2003-2025","lon":271.2,"std":1.06},{"series":"std 2003-2025","lon":272.7,"std":0.96},{"series":"std 2003-2025","lon":274.2,"std":0.96},{"series":"std 2003-2025","lon":275.7,"std":0.98},{"series":"std 2003-2025","lon":277.2,"std":1.08},{"series":"std 2003-2025","lon":278,"std":1.0},{"series":"std 2003-2025","lon":279.5,"std":0.9},{"series":"std 2003-2025","lon":281,"std":0.79},{"series":"std 2003-2025","lon":282.5,"std":0.83},{"series":"std 2003-2025","lon":284,"std":0.875},{"series":"std 2003-2025","lon":285.5,"std":0.92},{"series":"std 2003-2025","lon":287,"std":0.94},{"series":"std 2003-2025","lon":288.5,"std":1.04},{"series":"std 2003-2025","lon":290,"std":0.98},{"series":"std 2003-2025","lon":291.5,"std":1.04},{"series":"std 2003-2025","lon":293,"std":1.1},{"series":"std 2003-2025","lon":294.5,"std":1.12},{"series":"std 2003-2025","lon":296,"std":1.04},{"series":"std 2003-2025","lon":297.5,"std":0.96},{"series":"std 2003-2025","lon":298.3,"std":0.83},{"series":"std 2003-2025","lon":299,"std":1.06},{"series":"std 2003-2025","lon":300.2,"std":1.0},{"series":"std 2003-2025","lon":301.3,"std":0.73},{"series":"std 2003-2025","lon":302.3,"std":1.08},{"series":"std 2003-2025","lon":303.5,"std":1.04},{"series":"std 2003-2025","lon":305,"std":0.92},{"series":"std 2003-2025","lon":306.5,"std":1.06},{"series":"std 2003-2025","lon":308,"std":1.15},{"series":"std 2003-2025","lon":309.5,"std":1.17},{"series":"std 2003-2025","lon":311,"std":1.21},{"series":"std 2003-2025","lon":312.2,"std":1.33},{"series":"std 2003-2025","lon":313.3,"std":1.25},{"series":"std 2003-2025","lon":314.8,"std":1.1},{"series":"std 2003-2025","lon":316.3,"std":1.0},{"series":"std 2003-2025","lon":317.8,"std":0.96},{"series":"std 2003-2025","lon":319.3,"std":0.98},{"series":"std 2003-2025","lon":320.8,"std":0.855},{"series":"std 2003-2025","lon":322.3,"std":0.96},{"series":"std 2003-2025","lon":323.8,"std":1.29},{"series":"std 2003-2025","lon":324.9,"std":0.585},{"series":"std 2003-2025","lon":326.1,"std":0.71},{"series":"std 2003-2025","lon":327.6,"std":1.06},{"series":"std 2003-2025","lon":329.8,"std":1.37},{"series":"std 2003-2025","lon":331.3,"std":1.25},{"series":"std 2003-2025","lon":332.8,"std":1.04},{"series":"std 2003-2025","lon":334.3,"std":0.75},{"series":"std 2003-2025","lon":335.8,"std":0.75},{"series":"std 2003-2025","lon":337.3,"std":1.12},{"series":"std 2003-2025","lon":338.8,"std":1.08},{"series":"std 2003-2025","lon":340.3,"std":1.0},{"series":"std 2003-2025","lon":342.6,"std":0.75},{"series":"std 2003-2025","lon":344.1,"std":0.79},{"series":"std 2003-2025","lon":345.6,"std":0.9},{"series":"std 2003-2025","lon":347.1,"std":0.9},{"series":"std 2003-2025","lon":348.6,"std":0.83},{"series":"std 2003-2025","lon":350.4,"std":0.71},{"series":"std 2003-2025","lon":351.6,"std":0.94},{"series":"std 2003-2025","lon":353.1,"std":1.0},{"series":"std 2003-2025","lon":354.6,"std":0.94},{"series":"std 2003-2025","lon":356.1,"std":0.81},{"series":"std 2003-2025","lon":357.6,"std":0.83},{"series":"std 2003-2025","lon":359.1,"std":1.0},{"series":"std 2003-2025","lon":360,"std":0.99}
]},
"layer":[
{"data":{"name":"bands"},"mark":{"type":"rect","color":"#dcdcdc"},
 "encoding":{"x":{"field":"x0","type":"quantitative","scale":{"domain":[0,360],"nice":false},"axis":{"values":[0,60,120,180,240,300,360],"title":"Longitude"}},"x2":{"field":"x1"}}},
{"data":{"name":"lines"},"transform":[{"filter":"datum.series != 'std 1979-2025'"}],"mark":{"type":"line","clip":true},
 "encoding":{
  "x":{"field":"lon","type":"quantitative","title":"Longitude"},
  "y":{"field":"std","type":"quantitative","scale":{"domain":[0.4,2.0],"nice":false,"zero":false},"axis":{"values":[0.5,0.75,1.0,1.25,1.5,1.75,2.0],"format":".2f","title":"Ice edge std"}},
  "color":{"field":"series","type":"nominal","scale":{"domain":["std 1979-2025","std 1979-2002","std 2003-2025"],"range":["#000000","#32cd32","#4682b4"]},
   "legend":{"orient":"none","legendX":202,"legendY":5,"direction":"horizontal","columns":3,"title":null,"symbolType":"stroke","symbolSize":1369,"labelFontSize":16.5,"labelFont":"DejaVu Sans","labelColor":"black","labelOffset":12,"columnPadding":28}},
  "strokeDash":{"field":"series","type":"nominal","scale":{"domain":["std 1979-2025","std 1979-2002","std 2003-2025"],"range":[[1,0],[5.5,2.4],[5.5,2.4]]}},
  "strokeWidth":{"field":"series","type":"nominal","scale":{"domain":["std 1979-2025","std 1979-2002","std 2003-2025"],"range":[3.5,1.5,1.5]}}
 }},
{"data":{"name":"lines"},"transform":[{"filter":"datum.series == 'std 1979-2025'"}],"mark":{"type":"line","clip":true},
 "encoding":{
  "x":{"field":"lon","type":"quantitative","title":"Longitude"},
  "y":{"field":"std","type":"quantitative","title":"Ice edge std"},
  "color":{"field":"series","type":"nominal"},
  "strokeDash":{"field":"series","type":"nominal"},
  "strokeWidth":{"field":"series","type":"nominal"}
 }},
{"data":{"name":"labels"},"mark":{"type":"text","fontSize":16.5,"font":"DejaVu Sans","baseline":"alphabetic","align":"center","color":"black"},
 "encoding":{"x":{"field":"lon","type":"quantitative","title":"Longitude"},"y":{"datum":0.42,"type":"quantitative"},"text":{"field":"label"}}}
],
"config":{
 "font":"DejaVu Sans",
 "view":{"stroke":"black","strokeWidth":1.1},
 "axis":{"grid":false,"domainColor":"black","domainWidth":1.1,"tickColor":"black","tickWidth":1.1,"tickSize":5,"labelFontSize":16.5,"labelColor":"black","labelFont":"DejaVu Sans","labelPadding":4,"labelFlush":false,"labelOverlap":false,"titleFontSize":16.5,"titleFontWeight":"normal","titleColor":"black","titleFont":"DejaVu Sans"},
 "axisX":{"titlePadding":9},
 "axisY":{"titlePadding":10}
}
}
